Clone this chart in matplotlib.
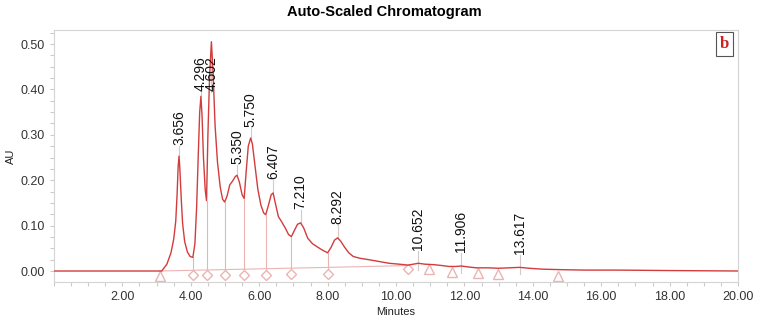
import matplotlib.pyplot as plt
from matplotlib.ticker import MultipleLocator, FixedLocator

plt.rcParams['font.family'] = ['Liberation Sans', 'DejaVu Sans']

# detector trace, minutes vs AU
trace_t = [0.0, 3.15, 3.30, 3.42, 3.50, 3.56, 3.60, 3.63, 3.656, 3.68, 3.72, 3.76, 3.82,
           3.90, 3.98, 4.06, 4.12, 4.17, 4.22, 4.26, 4.296, 4.33, 4.37, 4.42, 4.46, 4.50,
           4.55, 4.602, 4.65, 4.71, 4.78, 4.86, 4.93, 4.99, 5.06, 5.14, 5.22, 5.30, 5.350,
           5.42, 5.50, 5.56, 5.62, 5.68, 5.750, 5.80, 5.88, 5.96, 6.05, 6.13, 6.19, 6.27,
           6.35, 6.407, 6.47, 6.56, 6.66, 6.76, 6.86, 6.94, 7.02, 7.12, 7.210, 7.30, 7.42,
           7.56, 7.70, 7.85, 8.00, 8.10, 8.20, 8.292, 8.38, 8.50, 8.62, 8.75, 8.95, 9.20,
           9.50, 9.80, 10.10, 10.35, 10.50, 10.652, 10.85, 11.10, 11.35, 11.55, 11.75,
           11.906, 12.10, 12.35, 12.70, 13.00, 13.30, 13.617, 13.90, 14.30, 14.80, 15.50,
           16.50, 18.00, 20.00]
trace_au = [0.000, 0.000, 0.015, 0.040, 0.070, 0.110, 0.170, 0.230, 0.253, 0.225, 0.160,
            0.105, 0.065, 0.042, 0.032, 0.030, 0.060, 0.140, 0.260, 0.350, 0.385, 0.340,
            0.250, 0.180, 0.155, 0.300, 0.430, 0.505, 0.440, 0.320, 0.240, 0.185, 0.158,
            0.152, 0.165, 0.190, 0.198, 0.208, 0.211, 0.196, 0.168, 0.160, 0.220, 0.275,
            0.293, 0.280, 0.230, 0.180, 0.145, 0.128, 0.124, 0.145, 0.168, 0.172, 0.150,
            0.120, 0.108, 0.095, 0.080, 0.076, 0.088, 0.103, 0.106, 0.095, 0.072, 0.060,
            0.053, 0.046, 0.040, 0.052, 0.068, 0.073, 0.066, 0.052, 0.040, 0.032, 0.028,
            0.025, 0.021, 0.017, 0.015, 0.013, 0.015, 0.017, 0.015, 0.014, 0.012, 0.010,
            0.010, 0.011, 0.009, 0.007, 0.007, 0.006, 0.007, 0.008, 0.006, 0.004, 0.003,
            0.002, 0.002, 0.001, 0.000]

# labelled peaks (retention time, apex height)
peak_rt = [3.656, 4.296, 4.602, 5.350, 5.750, 6.407, 7.210, 8.292, 10.652, 11.906, 13.617]
peak_au = [0.253, 0.385, 0.505, 0.211, 0.293, 0.172, 0.106, 0.073, 0.017, 0.011, 0.008]

# integration baseline
base_t = [3.09, 8.00, 10.35]
base_au = [0.000, 0.008, 0.012]

# valley drop points and their height on the trace
drop_t = [4.06, 4.46, 4.99, 5.56, 6.19, 6.94, 8.00, 10.35]
drop_au = [0.030, 0.155, 0.152, 0.160, 0.124, 0.076, 0.040, 0.013]
drop_mark = [-0.009, -0.009, -0.009, -0.008, -0.008, -0.007, -0.006, 0.004]

# peak start/end markers
tri_t = [3.09, 10.96, 11.64, 12.40, 12.99, 14.74]
tri_au = [-0.011, 0.004, -0.0015, -0.005, -0.0066, -0.011]

red = '#d23c3c'
pink = '#ebb4b4'

fig = plt.figure(figsize=(7.68, 3.26), dpi=100)
ax = fig.add_axes([0.0703, 0.135, 0.8907, 0.773])

ax.plot(base_t, base_au, color=pink, lw=0.8, zorder=1)
for t, top, bot in zip(drop_t, drop_au, drop_mark):
    ax.plot([t, t], [bot + 0.006, top], color=pink, lw=0.8, zorder=1)
ax.plot(drop_t, drop_mark, ls='none', marker='D', ms=5.5, mfc='white', mec=pink, mew=1, zorder=2)
ax.plot(tri_t, tri_au, ls='none', marker='^', ms=7, mfc='white', mec=pink, mew=1, zorder=2)

ax.plot(trace_t, trace_au, color=red, lw=1.0, zorder=3)

# retention time labels, kept below the top of the plot
top_limit = 0.395
for t, h in zip(peak_rt, peak_au):
    y = min(h + 0.022, top_limit) if h > 0.2 else h + 0.028
    ax.plot([t, t], [h - 0.015 if h < 0.05 else h, y], color='#d8c8c8', lw=0.8, zorder=2)
    ax.text(t, y + 0.002, '%.3f' % t, rotation=90, ha='center', va='bottom',
            fontsize=10, color='#111111', zorder=4)

ax.set_xlim(0, 20)
ax.set_ylim(-0.0242, 0.531)
ax.xaxis.set_major_locator(FixedLocator([2, 4, 6, 8, 10, 12, 14, 16, 18, 20]))
ax.xaxis.set_major_formatter(plt.FuncFormatter(lambda v, p: '%.2f' % v))
ax.xaxis.set_minor_locator(MultipleLocator(0.5))
ax.yaxis.set_major_locator(FixedLocator([0.0, 0.1, 0.2, 0.3, 0.4, 0.5]))
ax.yaxis.set_major_formatter(plt.FuncFormatter(lambda v, p: '%.2f' % v))
ax.yaxis.set_minor_locator(MultipleLocator(0.025))
ax.tick_params(which='both', direction='out', color='#cccccc', labelsize=9,
               labelcolor='#333333', length=3, width=0.8)
for s in ax.spines.values():
    s.set_color('#d4d4d4')
    s.set_linewidth(0.8)

ax.set_xlabel('Minutes', fontsize=8, color='#222222', labelpad=3)
ax.set_ylabel('AU', fontsize=8, color='#222222', labelpad=3)
fig.suptitle('Auto-Scaled Chromatogram', x=0.5, y=0.985, va='top',
             fontsize=10.5, fontweight='bold')

ax.text(0.980, 0.944, 'b', transform=ax.transAxes, ha='center', va='center',
        fontsize=12, fontweight='bold', color='#d02020', family='Liberation Serif',
        bbox=dict(boxstyle='square,pad=0.25', fc='white', ec='#555555', lw=0.8))

fig.savefig('out.png', dpi=100)
